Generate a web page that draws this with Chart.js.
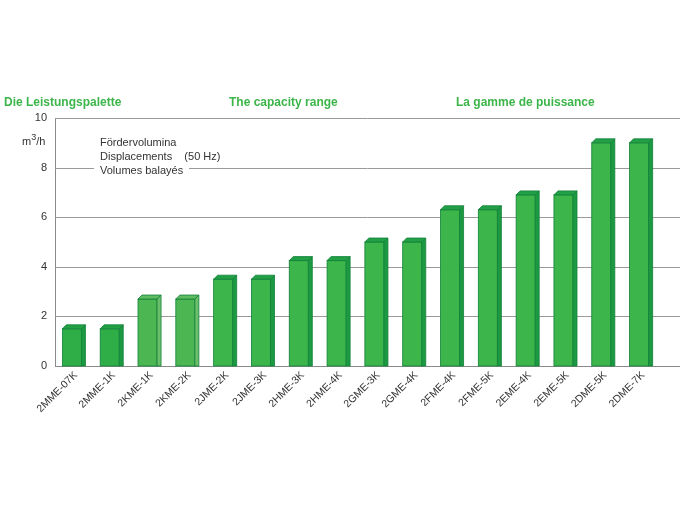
<!DOCTYPE html>
<html>
<head>
<meta charset="utf-8">
<script src="https://cdn.jsdelivr.net/npm/chart.js@4"></script>
<style>
  html, body { margin: 0; padding: 0; background: #fff; }
  #wrap { position: relative; width: 685px; height: 514px; font-family: "Liberation Sans", Arial, sans-serif; }
  canvas { position: absolute; left: 0; top: 0; }
  .ttl { position: absolute; top: 95px; font-size: 12px; font-weight: bold; color: #3cb54a; white-space: nowrap; }
  .unit { position: absolute; left: 22px; top: 132px; font-size: 11px; color: #333; }
  .unit sup { font-size: 9px; }
  .note { position: absolute; left: 94px; top: 135px; font-size: 11px; line-height: 14px; color: #333; }
  .note span { background: #fff; padding: 0 6px; display: inline-block; }
</style>
</head>
<body>
<div id="wrap">
  <canvas id="chart" width="685" height="514"></canvas>
  <div class="ttl" style="left:4px">Die Leistungspalette</div>
  <div class="ttl" style="left:229px">The capacity range</div>
  <div class="ttl" style="left:456px">La gamme de puissance</div>
  <div class="unit">m<sup>3</sup>/h</div>
  <div class="note">
    <span>Fördervolumina</span><br>
    <span>Displacements&nbsp;&nbsp;&nbsp;&nbsp;(50 Hz)</span><br>
    <span>Volumes balayés</span>
  </div>
</div>
<script>
// Verdichter-Typen und Fördervolumen (m3/h, 50 Hz)
const models = ['2MME-07K', '2MME-1K', '2KME-1K', '2KME-2K', '2JME-2K', '2JME-3K', '2HME-3K', '2HME-4K',
                '2GME-3K', '2GME-4K', '2FME-4K', '2FME-5K', '2EME-4K', '2EME-5K', '2DME-5K', '2DME-7K'];
const displacement = [1.5, 1.5, 2.7, 2.7, 3.5, 3.5, 4.25, 4.25, 5.0, 5.0, 6.3, 6.3, 6.9, 6.9, 9.0, 9.0];
const yTicks = [0, 2, 4, 6, 8, 10];

// Farben (vorne / Seite / oben)
const frontCol = models.map((m, i) => i < 2 ? '#2fae48' : (m.startsWith('2KME') ? '#4cb752' : '#3cb54a'));
const sideCol  = models.map(m => m.startsWith('2KME') ? '#6cbf6a' : '#1c9a42');
const topCol   = models.map(m => m.startsWith('2KME') ? '#5fbb60' : '#21a046');
const DEPTH = 4;

// 3D-Balken: Chart.js liefert die Gesamtbreite, vorne + Seite + Deckel werden hier gezeichnet
const bar3d = {
  id: 'bar3d',
  afterDatasetsDraw(chart) {
    const ctx = chart.ctx;
    chart.getDatasetMeta(0).data.forEach((bar, i) => {
      const p = bar.getProps(['x', 'y', 'width', 'base'], true);
      const l = p.x - p.width / 2, r = p.x + p.width / 2 - DEPTH;
      ctx.save();
      ctx.lineWidth = 0.8;
      ctx.strokeStyle = '#12803a';
      ctx.fillStyle = frontCol[i];
      ctx.fillRect(l, p.y, r - l, p.base - p.y);
      ctx.strokeRect(l, p.y, r - l, p.base - p.y);
      ctx.fillStyle = sideCol[i];
      ctx.beginPath();
      ctx.moveTo(r, p.y); ctx.lineTo(r + DEPTH, p.y - DEPTH);
      ctx.lineTo(r + DEPTH, p.base); ctx.lineTo(r, p.base); ctx.closePath();
      ctx.fill(); ctx.stroke();
      ctx.fillStyle = topCol[i];
      ctx.beginPath();
      ctx.moveTo(l, p.y); ctx.lineTo(l + DEPTH, p.y - DEPTH);
      ctx.lineTo(r + DEPTH, p.y - DEPTH); ctx.lineTo(r, p.y); ctx.closePath();
      ctx.fill(); ctx.stroke();
      ctx.restore();
    });
  }
};

// Rasterlinien bis zum rechten Rand verlängern
const gridExt = {
  id: 'gridExt',
  beforeDatasetsDraw(chart) {
    const ctx = chart.ctx, y = chart.scales.y, a = chart.chartArea;
    ctx.save();
    ctx.lineWidth = 1;
    yTicks.forEach(v => {
      const py = Math.round(y.getPixelForValue(v)) + 0.5;
      ctx.strokeStyle = v === 0 ? '#8a8a8a' : '#9a9a9a';
      ctx.beginPath(); ctx.moveTo(a.left, py); ctx.lineTo(680, py); ctx.stroke();
    });
    ctx.restore();
  }
};

new Chart(document.getElementById('chart'), {
  type: 'bar',
  data: {
    labels: models,
    datasets: [{
      data: displacement,
      backgroundColor: 'rgba(0,0,0,0)',
      borderWidth: 0,
      barPercentage: 0.61,
      categoryPercentage: 1.0
    }]
  },
  options: {
    responsive: false,
    animation: false,
    devicePixelRatio: 1,
    layout: { padding: { top: 118, right: 25, left: 0, bottom: 0 } },
    plugins: { legend: { display: false }, tooltip: { enabled: false } },
    scales: {
      x: {
        grid: { display: false, drawTicks: false },
        border: { display: false },
        afterFit: s => { s.height = 148; },
        ticks: {
          color: '#333', font: { family: 'Liberation Sans', size: 10.5 },
          minRotation: 45, maxRotation: 45, padding: 3, labelOffset: 2, autoSkip: false
        }
      },
      y: {
        min: 0, max: 10,
        afterFit: s => { s.width = 55; },
        afterBuildTicks: s => { s.ticks = yTicks.map(v => ({ value: v })); },
        grid: { display: false, drawTicks: false },
        border: { display: true, color: '#8a8a8a', width: 1 },
        ticks: { color: '#333', font: { family: 'Liberation Sans', size: 11 }, padding: 8 }
      }
    }
  },
  plugins: [gridExt, bar3d]
});
</script>
</body>
</html>
